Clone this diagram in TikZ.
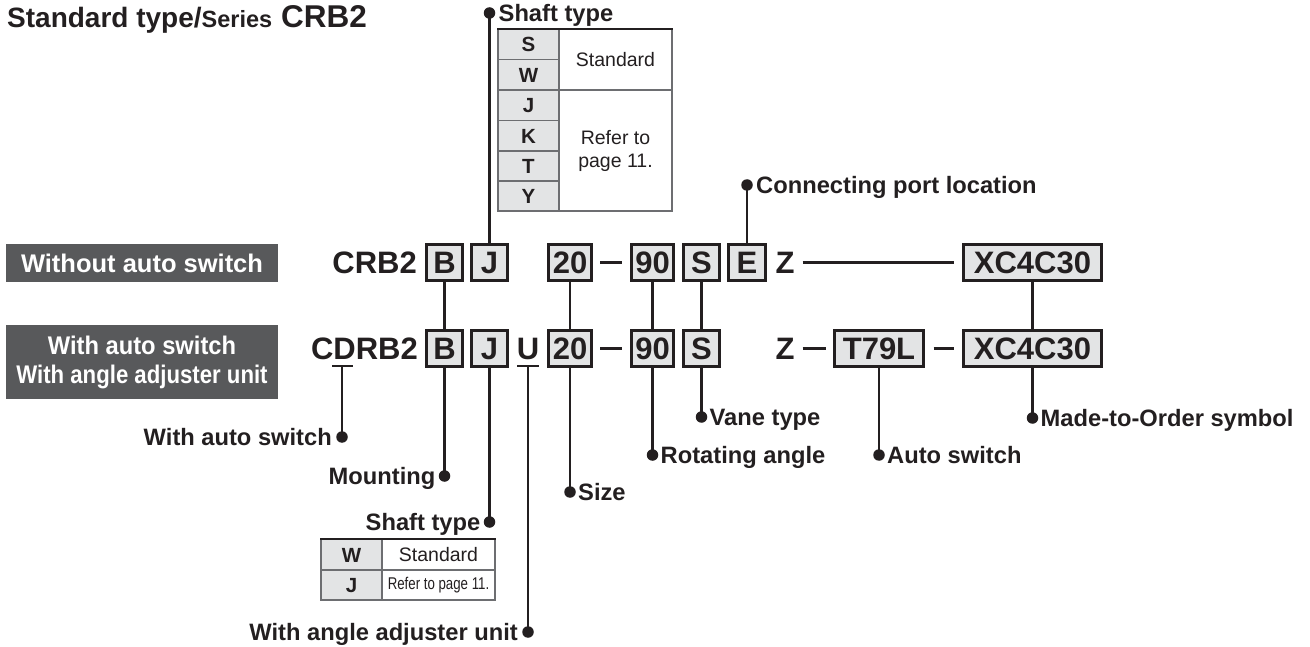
\documentclass[tikz,border=0pt]{standalone}
\usepackage{fontspec}
\setmainfont{Liberation Sans}
\definecolor{ink}{HTML}{231F20}
\definecolor{boxfill}{HTML}{E3E4E5}
\definecolor{darkbg}{HTML}{58595B}
\definecolor{gridc}{HTML}{6D6E71}
\begin{document}
\begin{tikzpicture}[x=1pt,y=-1pt,
  code/.style={font=\fontsize{31}{31}\selectfont\bfseries, text=ink, inner sep=0pt, text height=22.2pt, text depth=0pt},
  cbox/.style={code, draw=ink, line width=2.2pt, fill=boxfill, minimum height=36pt},
  lbl/.style={font=\fontsize{23.7}{26}\selectfont\bfseries, text=ink, inner sep=0pt, text height=17pt, text depth=0pt},
  dotn/.style={circle, fill=ink, inner sep=0pt, minimum size=11.5pt},
  conn/.style={draw=ink, line width=2.4pt},
  dashl/.style={draw=ink, line width=3.8pt},
  tletter/.style={font=\fontsize{20.5}{20}\selectfont\bfseries, text=ink, inner sep=0pt, text height=14.7pt, text depth=0pt},
  ttext/.style={font=\fontsize{19.5}{23}\selectfont, text=ink, inner sep=0pt, align=center},
  darkbox/.style={fill=darkbg, text=white, inner sep=0pt, minimum width=272pt, font=\fontsize{25.5}{29}\selectfont\bfseries, align=center}
]
\useasboundingbox (0,0) rectangle (1310,647);

% title
\node[anchor=base west, inner sep=0pt, text=ink] (title) at (7,28)
  {\fontsize{28}{30}\selectfont\bfseries Standard type/\fontsize{23.5}{26}\selectfont Series\hspace{9pt}\fontsize{31.5}{31}\selectfont CRB2};

% left dark boxes
\node[darkbox, minimum height=38pt] (noSw) at (142,263) {Without auto switch};
\node[darkbox, minimum height=74pt] (withSw) at (142,362) {\scalebox{0.93}[1]{With auto switch}\\\scalebox{0.87}[1]{With angle adjuster unit}};

% row 1
\node[code, anchor=east] (crb) at (417,262.5) {CRB2};
\node[cbox, minimum width=36pt] (B1) at (444.5,262.5) {B};
\node[cbox, minimum width=36pt] (J1) at (489.5,262.5) {J};
\node[cbox, minimum width=43pt] (S201) at (570,262.5) {20};
\node[cbox, minimum width=42pt] (A901) at (652.5,262.5) {90};
\node[cbox, minimum width=36pt] (V1) at (701.5,262.5) {S};
\node[cbox, minimum width=37pt] (E1) at (747,262.5) {E};
\node[code] (Z1) at (785,262.5) {Z};
\node[cbox, minimum width=138pt] (X1) at (1032.5,262.5) {XC4C30};
\coordinate (d1a) at (600,262.5); \coordinate (d1b) at (622,262.5);
\draw[dashl] (d1a) -- (d1b);
\draw[dashl] ([xshift=8pt]Z1.east) -- ([xshift=-8pt]X1.west);

% row 2
\node[code, anchor=east] (cdrb) at (418,348.5) {CDRB2};
\node[cbox, minimum width=36pt] (B2) at (444.5,348.5) {B};
\node[cbox, minimum width=36pt] (J2) at (489.5,348.5) {J};
\node[code] (U2) at (528,348.5) {U};
\node[cbox, minimum width=43pt] (S202) at (570,348.5) {20};
\node[cbox, minimum width=42pt] (A902) at (652.5,348.5) {90};
\node[cbox, minimum width=36pt] (V2) at (701.5,348.5) {S};
\node[code] (Z2) at (785,348.5) {Z};
\node[cbox, minimum width=89pt] (T2) at (879,348.5) {T79L};
\node[cbox, minimum width=138pt] (X2) at (1032.5,348.5) {XC4C30};
\coordinate (d2a) at (600,348.5); \coordinate (d2b) at (622,348.5);
\draw[dashl] (d2a) -- (d2b);
\draw[dashl] ([xshift=8pt]Z2.east) -- ([xshift=-7pt]T2.west);
\draw[dashl] ([xshift=9pt]T2.east) -- ([xshift=-8pt]X2.west);

% underlines
\coordinate (Dl) at (332,366); \coordinate (Dr) at (353,366); \coordinate (Dm) at (342,366);
\coordinate (Ul) at (517,366); \coordinate (Ur) at (539,366); \coordinate (Um) at (528,366);
\draw[conn] (Dl) -- (Dr);
\draw[conn] (Ul) -- (Ur);

% links between rows
\draw[conn] (B1.south) -- (B2.north);
\draw[conn] (S201.south) -- (S202.north);
\draw[conn] (A901.south) -- (A902.north);
\draw[conn] (V1.south) -- (V2.north);
\draw[conn] (X1.south) -- (X2.north);

% dots
\node[dotn] (dShaftT) at (489.5,13) {};
\node[dotn] (dPort) at (747,185) {};
\node[dotn] (dAuto) at (342,437) {};
\node[dotn] (dMount) at (444.5,476) {};
\node[dotn] (dShaftB) at (489.5,522) {};
\node[dotn] (dAdj) at (528,632) {};
\node[dotn] (dSize) at (570,492) {};
\node[dotn] (dRot) at (652.5,455) {};
\node[dotn] (dVane) at (701.5,417) {};
\node[dotn] (dSw) at (879,455) {};
\node[dotn] (dMto) at (1032.5,418) {};

\draw[conn] (J1.north) -- (dShaftT.center);
\draw[conn] (E1.north) -- (dPort.center);
\draw[conn] (Dm) -- (dAuto.center);
\draw[conn] (B2.south) -- (dMount.center);
\draw[conn] (J2.south) -- (dShaftB.center);
\draw[conn] (Um) -- (dAdj.center);
\draw[conn] (S202.south) -- (dSize.center);
\draw[conn] (A902.south) -- (dRot.center);
\draw[conn] (V2.south) -- (dVane.center);
\draw[conn] (T2.south) -- (dSw.center);
\draw[conn] (X2.south) -- (dMto.center);

% labels
\node[lbl, anchor=west] (lShaftT) at ([xshift=9pt]dShaftT.center) {Shaft type};
\node[lbl, anchor=west] (lPort) at ([xshift=9pt]dPort.center) {Connecting port location};
\node[lbl, anchor=east] (lAuto) at ([xshift=-10pt]dAuto.center) {With auto switch};
\node[lbl, anchor=east] (lMount) at ([xshift=-9pt]dMount.center) {Mounting};
\node[lbl, anchor=east] (lShaftB) at ([xshift=-9pt]dShaftB.center) {Shaft type};
\node[lbl, anchor=east] (lAdj) at ([xshift=-10pt]dAdj.center) {With angle adjuster unit};
\node[lbl, anchor=west] (lSize) at ([xshift=8pt]dSize.center) {Size};
\node[lbl, anchor=west] (lRot) at ([xshift=8pt]dRot.center) {Rotating angle};
\node[lbl, anchor=west] (lVane) at ([xshift=8pt]dVane.center) {Vane type};
\node[lbl, anchor=west] (lSw) at ([xshift=8pt]dSw.center) {Auto switch};
\node[lbl, anchor=west] (lMto) at ([xshift=8pt]dMto.center) {Made-to-Order symbol};

% top table
\fill[boxfill] (498,29) rectangle (559,211);
\draw[gridc, line width=1.3pt] (498,29) rectangle (672,211);
\draw[gridc, line width=1.3pt] (559,29) -- (559,211);
\draw[gridc, line width=1.3pt] (498,59.5) -- (559,59.5);
\draw[gridc, line width=1.3pt] (498,90) -- (672,90);
\draw[gridc, line width=1.3pt] (498,120.5) -- (559,120.5);
\draw[gridc, line width=1.3pt] (498,151) -- (559,151);
\draw[gridc, line width=1.3pt] (498,181) -- (559,181);
\draw[ink, line width=2.6pt] (497.4,29) -- (672.6,29);
\node[tletter] (tS) at (528.5,44.25) {S};
\node[tletter] (tW) at (528.5,74.75) {W};
\node[tletter] (tJ) at (528.5,105.25) {J};
\node[tletter] (tK) at (528.5,135.75) {K};
\node[tletter] (tT) at (528.5,166) {T};
\node[tletter] (tY) at (528.5,196) {Y};
\node[ttext] (tStd) at (615.5,60) {Standard};
\node[ttext] (tRef) at (615.5,151) {Refer to\\page 11.};

% bottom table
\fill[boxfill] (321,539) rectangle (382,600);
\draw[gridc, line width=1.3pt] (321,539) rectangle (495,600);
\draw[gridc, line width=1.3pt] (382,539) -- (382,600);
\draw[gridc, line width=1.3pt] (321,570) -- (495,570);
\draw[ink, line width=2.6pt] (320.4,539) -- (495.6,539);
\node[tletter] (bW) at (351.5,555) {W};
\node[tletter] (bJ) at (351.5,585) {J};
\node[ttext] (bStd) at (438.5,555) {Standard};
\node[ttext, font=\fontsize{17}{17}\selectfont] (bRef) at (438.5,585) {\scalebox{0.78}[1]{Refer to page 11.}};
\end{tikzpicture}
\end{document}
